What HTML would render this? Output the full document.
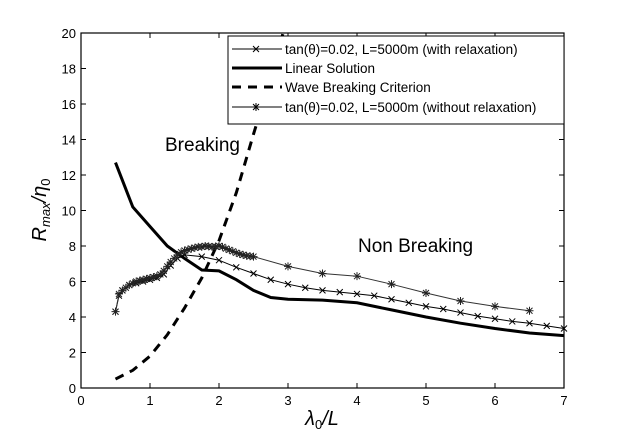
<!DOCTYPE html>
<html><head><meta charset="utf-8"><style>
body{margin:0;background:#fff}
svg text{font-family:"Liberation Sans",sans-serif;fill:#000}
</style></head><body>
<svg id="chart" width="623" height="438" viewBox="0 0 623 438">
<rect width="623" height="438" fill="#fff"/>
<g id="marks"></g>
<g id="axes"></g>
<text x="165" y="151" font-size="19">Breaking</text>
<text x="358" y="252" font-size="19">Non Breaking</text>
<text transform="translate(46,210) rotate(-90)" text-anchor="middle" font-size="20" font-family="Liberation Serif" font-style="italic">R<tspan font-size="13" dy="4">max</tspan><tspan dy="-4">/η</tspan><tspan font-size="13" dy="4" font-style="normal">0</tspan></text>
<text x="322" y="425" text-anchor="middle" font-size="20" font-family="Liberation Serif" font-style="italic">λ<tspan font-size="13" dy="4" font-style="normal">0</tspan><tspan dy="-4">/L</tspan></text>
<g>
<rect x="228" y="36" width="336" height="88" fill="#fff" stroke="#000" stroke-width="1"/>
<line x1="232" y1="49" x2="282" y2="49" stroke="#000" stroke-width="1"/>
<path d="M253,46 l6,6 M259,46 l-6,6" stroke="#000"/>
<text x="285" y="54" font-size="13.5">tan(θ)=0.02, L=5000m (with relaxation)</text>
<line x1="232" y1="68" x2="282" y2="68" stroke="#000" stroke-width="3"/>
<text x="285" y="73" font-size="13.5">Linear Solution</text>
<line x1="232" y1="87" x2="282" y2="87" stroke="#000" stroke-width="3" stroke-dasharray="9,7"/>
<text x="285" y="92" font-size="13.5">Wave Breaking Criterion</text>
<line x1="232" y1="107" x2="282" y2="107" stroke="#000" stroke-width="1"/>
<path d="M252,107 h8 M256,103 v8 M253,104 l6,6 M259,104 l-6,6" stroke="#000"/>
<text x="285" y="112" font-size="13.5">tan(θ)=0.02, L=5000m (without relaxation)</text>
</g>
</svg>
<script>
const linX=[0.5,0.75,1,1.25,1.5,1.75,2,2.25,2.5,2.75,3,3.5,4,4.5,5,5.5,6,6.5,7];
const linY=[12.7,10.2,9.1,8,7.3,6.65,6.6,6.1,5.5,5.1,5,4.95,4.8,4.4,4,3.65,3.35,3.1,2.95];
const brkX=[0.5,0.75,1,1.25,1.5,1.75,2,2.25,2.5,2.75,3];
const brkY=[0.5,1.0,1.8,3,4.5,6.2,8.3,11,14.3,17.5,21];
const relX=[0.5,0.55,0.6,0.7,0.8,0.9,1,1.1,1.2,1.3,1.4,1.5,1.75,2,2.25,2.5,2.75,3,3.25,3.5,3.75,4,4.25,4.5,4.75,5,5.25,5.5,5.75,6,6.25,6.5,6.75,7];
const relY=[4.3,5.2,5.5,5.8,5.9,6.0,6.1,6.2,6.4,6.9,7.3,7.5,7.4,7.2,6.8,6.45,6.1,5.85,5.65,5.5,5.4,5.3,5.2,5.0,4.8,4.6,4.45,4.25,4.05,3.9,3.75,3.65,3.5,3.35];
const norX=[0.5,0.55,0.6,0.65,0.7,0.75,0.8,0.85,0.9,0.95,1,1.05,1.1,1.15,1.2,1.25,1.3,1.35,1.4,1.45,1.5,1.55,1.6,1.65,1.7,1.75,1.8,1.85,1.9,1.95,2,2.05,2.1,2.15,2.2,2.25,2.3,2.35,2.4,2.45,2.5,3,3.5,4,4.5,5,5.5,6,6.5];
const norY=[4.3,5.3,5.5,5.65,5.8,5.9,6.0,6.05,6.1,6.15,6.2,6.25,6.3,6.4,6.6,6.85,7.1,7.3,7.5,7.65,7.75,7.8,7.85,7.9,7.95,7.95,8.0,7.98,7.95,7.97,8.0,7.95,7.85,7.78,7.7,7.62,7.55,7.5,7.45,7.42,7.4,6.85,6.45,6.3,5.85,5.35,4.9,4.6,4.35];
const xTicks=[0,1,2,3,4,5,6,7];
const yTicks=[0,2,4,6,8,10,12,14,16,18,20];
const L=81,R=564,T=33,B=388;
const sx=v=>L+(R-L)*v/7, sy=v=>B-(B-T)*v/20;
const NS="http://www.w3.org/2000/svg";
const marks=document.getElementById('marks'), axes=document.getElementById('axes');
function mk(tag,attrs,parent){const e=document.createElementNS(NS,tag);for(const k in attrs)e.setAttribute(k,attrs[k]);parent.appendChild(e);return e;}
const clip=mk('clipPath',{id:'pc'},marks);mk('rect',{x:L,y:T,width:R-L,height:B-T},clip);
function pts(xs,ys){return xs.map((x,i)=>sx(x).toFixed(1)+','+sy(ys[i]).toFixed(1)).join(' ');}
let e;
e=mk('polyline',{points:pts(brkX,brkY),fill:'none',stroke:'#000','stroke-width':3,'stroke-dasharray':'9,7','clip-path':'url(#pc)'},marks);


e=mk('polyline',{points:pts(linX,linY),fill:'none',stroke:'#000','stroke-width':3},marks);


e=mk('polyline',{points:pts(relX,relY),fill:'none',stroke:'#000','stroke-width':1},marks);


relX.forEach((x,i)=>{const cx=sx(x),cy=sy(relY[i]);
 const m=mk('path',{d:`M${cx-3},${cy-3}l6,6M${cx+3},${cy-3}l-6,6`,stroke:'#000','stroke-width':1},marks);
 
 });
e=mk('polyline',{points:pts(norX,norY),fill:'none',stroke:'#333','stroke-width':1},marks);


norX.forEach((x,i)=>{const cx=sx(x),cy=sy(norY[i]);
 const m=mk('path',{d:`M${cx-4},${cy}h8M${cx},${cy-4}v8M${cx-3},${cy-3}l6,6M${cx+3},${cy-3}l-6,6`,stroke:'#222','stroke-width':1},marks);
 
 });
e=mk('rect',{x:L,y:T,width:R-L,height:B-T,fill:'none',stroke:'#000','stroke-width':1.2},axes);


xTicks.forEach(v=>{const x=sx(v);
 mk('line',{x1:x,y1:B,x2:x,y2:B-5,stroke:'#000'},axes);mk('line',{x1:x,y1:T,x2:x,y2:T+5,stroke:'#000'},axes);
 const t=mk('text',{x:x,y:B+17,'text-anchor':'middle','font-size':13},axes);t.textContent=v;
 
 });
yTicks.forEach(v=>{const y=sy(v);
 mk('line',{x1:L,y1:y,x2:L+5,y2:y,stroke:'#000'},axes);mk('line',{x1:R,y1:y,x2:R-5,y2:y,stroke:'#000'},axes);
 const t=mk('text',{x:L-5,y:y+5,'text-anchor':'end','font-size':13},axes);t.textContent=v;
 
 });
</script>
</body></html>
